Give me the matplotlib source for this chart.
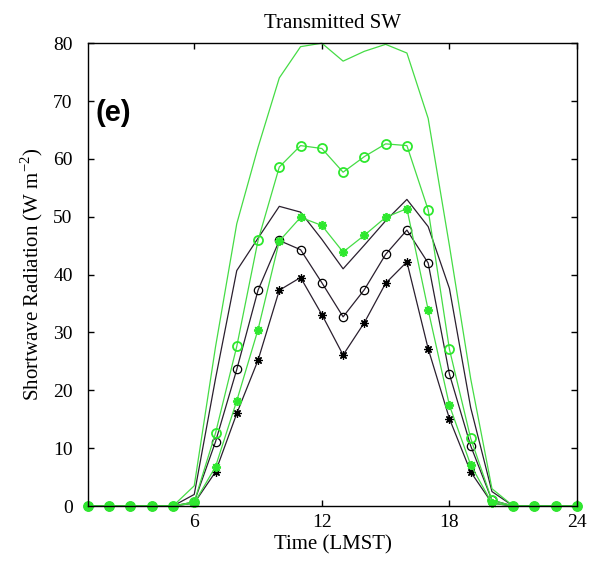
import matplotlib
matplotlib.use("Agg")
import matplotlib.pyplot as plt
import numpy as np

# hourly transmitted shortwave (W m-2)
hours = np.arange(1, 25)

blk_star = [0, 0, 0, 0, 0, 0.5, 5.9, 16.0, 25.2, 37.3, 39.5, 33.1,
            26.1, 31.7, 38.5, 42.2, 27.2, 15.1, 5.9, 0.5, 0, 0, 0, 0]
blk_circ = [0, 0, 0, 0, 0, 0.7, 11.1, 23.6, 37.3, 45.9, 44.3, 38.6,
            32.7, 37.4, 43.5, 47.7, 42.0, 22.8, 10.4, 1.0, 0, 0, 0, 0]
blk_line = [0, 0, 0, 0, 0, 2.0, 22.0, 40.7, 46.3, 51.8, 50.8, 46.1,
            41.0, 45.1, 49.3, 53.0, 48.3, 37.6, 17.0, 2.5, 0, 0, 0, 0]
grn_star = [0, 0, 0, 0, 0, 0.5, 6.8, 18.2, 30.5, 45.8, 49.9, 48.5,
            43.9, 46.8, 49.9, 51.4, 33.9, 17.4, 7.1, 0.5, 0, 0, 0, 0]
grn_circ = [0, 0, 0, 0, 0, 0.7, 12.6, 27.6, 45.9, 58.6, 62.3, 61.8,
            57.7, 60.4, 62.6, 62.3, 51.2, 27.1, 11.7, 1.0, 0, 0, 0, 0]
grn_line = [0, 0, 0, 0, 0, 3.5, 27.5, 48.8, 62.0, 74.0, 79.4, 80.0,
            76.9, 78.6, 79.8, 78.3, 67.0, 45.0, 22.0, 3.0, 0, 0, 0, 0]

xticks = [6, 12, 18, 24]
yticks = np.arange(0, 81, 10)

GREEN = '#2ee82e'
GREEN_LINE = '#45dc45'
DARK = '#2a1f2e'
ASTER = (8, 2, 0)

plt.rcParams['font.family'] = ['Liberation Serif', 'DejaVu Serif']

fig = plt.figure(figsize=(5.9, 5.61), dpi=100)
ax = fig.add_axes([0.149, 0.098, 0.829, 0.825])

kw = dict(lw=0.9, ms=6, mew=0.9, clip_on=False)
ax.plot(hours, blk_line, color=DARK, **kw)
ax.plot(hours, blk_circ, color=DARK, marker='o', mfc='none', mec='black', **kw)
ax.plot(hours, blk_star, color=DARK, marker=ASTER, mec='black', **kw)
ax.plot(hours, grn_line, color=GREEN_LINE, **kw)
gkw = dict(kw, mew=1.3, ms=6.5)
ax.plot(hours, grn_circ, color=GREEN_LINE, marker='o', mfc='none', mec=GREEN, **gkw)
ax.plot(hours, grn_star, color=GREEN_LINE, marker=ASTER, mec=GREEN, **gkw)

ax.set_xlim(1, 24)
ax.set_ylim(0, 80)
ax.set_xticks(xticks)
ax.set_yticks(yticks)
ax.tick_params(direction='in', length=4, width=1, top=True, right=True,
               labelsize=14)
ax.tick_params(axis='y', pad=11)
ax.tick_params(axis='x', pad=6)
for s in ax.spines.values():
    s.set_linewidth(1)

ax.set_title('Transmitted SW', fontsize=15, pad=11)
ax.set_xlabel('Time (LMST)', fontsize=15, labelpad=3)
ax.set_ylabel('Shortwave Radiation (W m$^{\\mathregular{-2}}$)', fontsize=15, labelpad=6)
ax.text(0.016, 0.85, '(e)', transform=ax.transAxes, fontsize=21,
        fontweight='bold', family='Liberation Sans', va='center')

fig.savefig('out.png', dpi=100, facecolor='white')
